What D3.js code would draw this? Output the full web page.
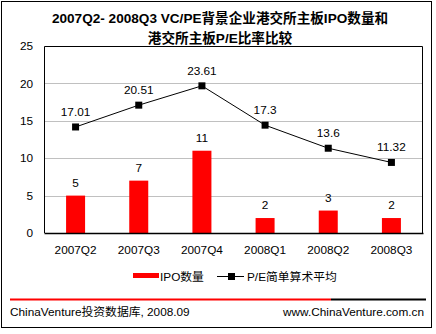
<!DOCTYPE html>
<html>
<head>
<meta charset="utf-8">
<script src="https://cdn.jsdelivr.net/npm/d3@7"></script>
<style>
  html, body { margin: 0; padding: 0; background: #fff; }
  svg { display: block; }
  text { font-family: "Liberation Sans", Arial, "Noto Sans CJK SC", sans-serif; fill: #000; }
</style>
</head>
<body>
<svg id="chart" width="436" height="334"></svg>
<script>
// Quarterly categories
const quarters = ["2007Q2", "2007Q3", "2007Q4", "2008Q1", "2008Q2", "2008Q3"];
// IPO count per quarter (bars, left axis)
const ipoCounts = [5, 7, 11, 2, 3, 2];
// Simple average P/E per quarter (line, secondary axis)
const peAverages = [17.01, 20.51, 23.61, 17.3, 13.6, 11.32];
// Left axis ticks
const yTicks = [0, 5, 10, 15, 20, 25];

const titleLines = ["2007Q2- 2008Q3  VC/PE背景企业港交所主板IPO数量和", "港交所主板P/E比率比较"];
const seriesNames = ["IPO数量", "P/E简单算术平均"];
const footerLeft = "ChinaVenture投资数据库, 2008.09";
const footerRight = "www.ChinaVenture.com.cn";

const svg = d3.select("#chart");
const cjk = '"Liberation Sans", Arial, "Noto Sans CJK SC", sans-serif';
const fs = "11.8px";

// outer frame
svg.append("rect").attr("x", 1.5).attr("y", 1.5).attr("width", 430).attr("height", 326)
  .attr("fill", "#fff").attr("stroke", "#000").attr("stroke-width", 1);

// title
svg.selectAll("text.title").data(titleLines).enter().append("text")
  .attr("class", "title")
  .attr("x", 220).attr("y", (d, i) => 23 + i * 20)
  .attr("text-anchor", "middle")
  .style("font-size", "13.6px").style("font-weight", "bold")
  .text(d => d);

const plot = { left: 44, right: 423, top: 46, bottom: 233 };

const x = d3.scaleBand().domain(quarters).range([plot.left, plot.right]);
const y = d3.scaleLinear().domain([0, 25]).range([plot.bottom, plot.top]);
const y2 = d3.scaleLinear().domain([0, 30]).range([plot.bottom, plot.top]);

// gridlines
svg.append("g").selectAll("line").data(yTicks.filter(t => t > 0 && t < 25)).enter().append("line")
  .attr("x1", plot.left).attr("x2", plot.right)
  .attr("y1", d => Math.round(y(d)) + 0.5).attr("y2", d => Math.round(y(d)) + 0.5)
  .attr("stroke", "#c0c0c0").attr("stroke-width", 1);

// plot frame (top, left, right)
svg.append("path")
  .attr("d", `M${plot.left + 0.5},${plot.bottom}V${plot.top + 0.5}H${plot.right - 0.5}V${plot.bottom}`)
  .attr("fill", "none").attr("stroke", "#000").attr("stroke-width", 1);

// left axis labels
const yAxis = d3.axisLeft(y).tickValues(yTicks).tickSize(0).tickPadding(11);
const gy = svg.append("g").attr("transform", `translate(${plot.left},0)`).call(yAxis);
gy.select(".domain").remove();
gy.selectAll("text").style("font-size", fs).style("font-family", cjk);

// bars
const barW = 19;
svg.append("g").selectAll("rect").data(ipoCounts).enter().append("rect")
  .attr("x", (d, i) => x(quarters[i]) + x.bandwidth() / 2 - barW / 2)
  .attr("y", d => y(d))
  .attr("width", barW)
  .attr("height", d => plot.bottom - y(d))
  .attr("fill", "#ff0000");

// bar value labels
svg.append("g").selectAll("text").data(ipoCounts).enter().append("text")
  .attr("x", (d, i) => x(quarters[i]) + x.bandwidth() / 2)
  .attr("y", d => y(d) - 9)
  .attr("text-anchor", "middle")
  .style("font-size", fs)
  .text(d => d);

// x axis
const xAxis = d3.axisBottom(x).tickSize(0).tickPadding(13);
const gx = svg.append("g").attr("transform", `translate(0,${plot.bottom})`).call(xAxis);
gx.select(".domain").attr("stroke", "#000").attr("stroke-width", 1.5);
gx.selectAll("text").style("font-size", fs).style("font-family", cjk);

// P/E line
const line = d3.line()
  .x((d, i) => x(quarters[i]) + x.bandwidth() / 2)
  .y(d => y2(d));
svg.append("path").datum(peAverages)
  .attr("d", line).attr("fill", "none").attr("stroke", "#000").attr("stroke-width", 1);

svg.append("g").selectAll("rect").data(peAverages).enter().append("rect")
  .attr("x", (d, i) => x(quarters[i]) + x.bandwidth() / 2 - 3.5)
  .attr("y", d => y2(d) - 3.5)
  .attr("width", 7).attr("height", 7).attr("fill", "#000");

svg.append("g").selectAll("text").data(peAverages).enter().append("text")
  .attr("x", (d, i) => x(quarters[i]) + x.bandwidth() / 2)
  .attr("y", d => y2(d) - 11)
  .attr("text-anchor", "middle")
  .style("font-size", fs)
  .text(d => d);

// legend
const lg = svg.append("g");
lg.append("rect").attr("x", 133).attr("y", 273).attr("width", 26).attr("height", 5).attr("fill", "#ff0000");
lg.append("text").attr("x", 160).attr("y", 281).style("font-size", fs).text(seriesNames[0]);
lg.append("line").attr("x1", 217).attr("x2", 244).attr("y1", 276.5).attr("y2", 276.5)
  .attr("stroke", "#000").attr("stroke-width", 1);
lg.append("rect").attr("x", 228).attr("y", 273).attr("width", 7).attr("height", 7).attr("fill", "#000");
lg.append("text").attr("x", 247).attr("y", 281).style("font-size", fs).text(seriesNames[1]);

// footer rule
svg.append("line").attr("x1", 10).attr("x2", 331).attr("y1", 299.5).attr("y2", 299.5)
  .attr("stroke", "#ff0000").attr("stroke-width", 2);
svg.append("line").attr("x1", 331).attr("x2", 426).attr("y1", 299.5).attr("y2", 299.5)
  .attr("stroke", "#000").attr("stroke-width", 2);

svg.append("text").attr("x", 10).attr("y", 316).style("font-size", fs).text(footerLeft);
svg.append("text").attr("x", 424).attr("y", 316).attr("text-anchor", "end").style("font-size", fs).text(footerRight);
</script>
</body>
</html>
